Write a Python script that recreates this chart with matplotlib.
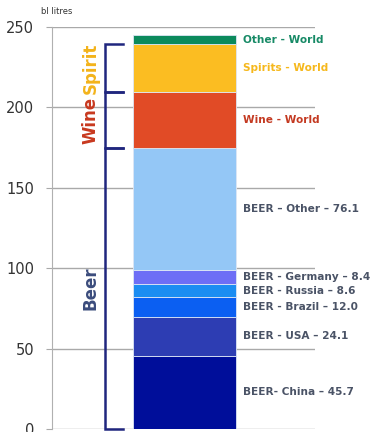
import numpy as np
import matplotlib
matplotlib.use('Agg')
import matplotlib.pyplot as plt

# 数据（自下而上）
labels = ['BEER- China \u2013 45.7', 'BEER - USA \u2013 24.1', 'BEER - Brazil \u2013 12.0',
          'BEER - Russia \u2013 8.6', 'BEER - Germany \u2013 8.4', 'BEER \u2013 Other \u2013 76.1',
          'Wine - World', 'Spirits - World', 'Other - World']
values = [45.7, 24.1, 12.0, 8.6, 8.4, 76.1, 34.5, 30.0, 5.5]
colors = ['#000e9a', '#2d3db3', '#0b5ff2', '#1b8df2', '#6d6ef6', '#94c7f6',
          '#e14b26', '#fbbd22', '#0b8a5c']
label_colors = ['#4a5366'] * 6 + ['#c43a22', '#f6b81c', '#178a66']

groups = ['Beer', 'Wine', 'Spirit']
group_sizes = [6, 1, 1]
group_colors = ['#3b4c7c', '#c8391f', '#f3b31a']

fig = plt.figure(figsize=(3.81, 4.32), dpi=100)
ax = fig.add_axes([52 / 381, 3 / 432, 263 / 381, 402 / 432])

bottoms = np.concatenate([[0], np.cumsum(values)[:-1]])
bar_x, bar_w = 0.308, 0.392
ax.bar(bar_x, values, width=bar_w, bottom=bottoms, color=colors, align='edge',
       edgecolor='#dde6f5', linewidth=0.6, zorder=3)

# 右侧标签
for lab, v, b, c in zip(labels, values, bottoms, label_colors):
    ax.text(0.726, b + v / 2, lab, color=c, fontsize=7.6, fontweight='bold',
            va='center', ha='left', clip_on=False)

# 左侧括号
tops = np.cumsum(values)
idx = 0
for g, n, gc in zip(groups, group_sizes, group_colors):
    lo = bottoms[idx]
    hi = tops[idx + n - 1]
    idx += n
    ax.plot([0.27, 0.2015, 0.2015, 0.27], [lo, lo, hi, hi], color='#20267e',
            lw=1.8, solid_joinstyle='miter', clip_on=False, zorder=4)
    ax.text(0.146, (lo + hi) / 2, g, rotation=90, color=gc, fontsize=12,
            fontweight='bold', ha='center', va='center')

ax.set_xlim(0, 1)
ax.set_ylim(0, 250)
ax.set_yticks([0, 50, 100, 150, 200, 250])
ax.set_xticks([])
ax.grid(axis='y', color='#a9a9a9', lw=1, zorder=0)
for s in ['top', 'right', 'bottom']:
    ax.spines[s].set_visible(False)
ax.spines['left'].set_color('#b0b0b0')
ax.tick_params(axis='y', length=4, color='#a9a9a9', labelsize=10.5,
               labelcolor='#333333', pad=9)

fig.text(41 / 381, 1 - 11 / 432, 'bl litres', fontsize=6, color='#333333',
         va='center', ha='left')

plt.savefig('out.png', dpi=100)
